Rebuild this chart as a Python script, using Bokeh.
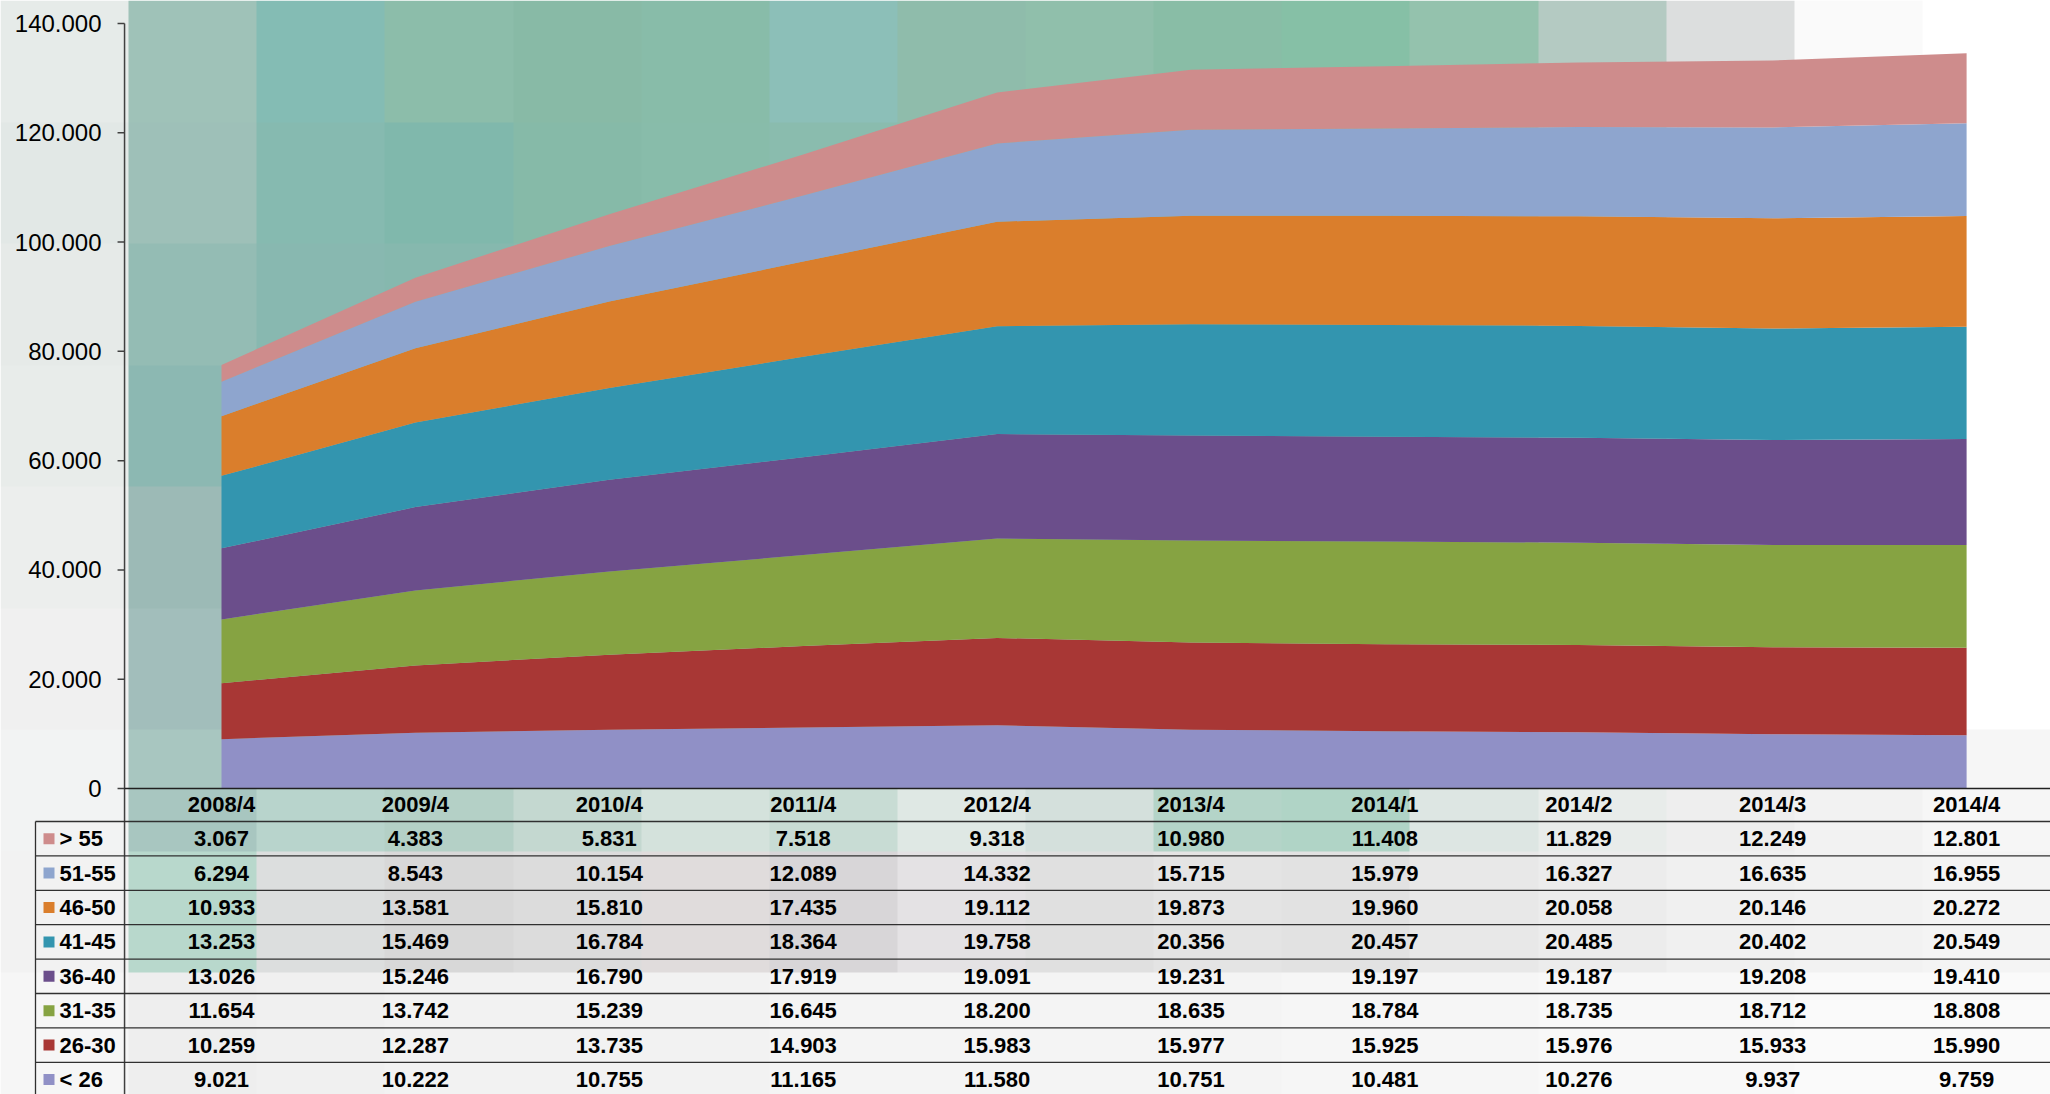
import numpy as np
from bokeh.plotting import figure
from bokeh.models import Range1d, ColumnDataSource
from bokeh.core.properties import value
from bokeh.embed import file_html
from bokeh.resources import INLINE

# ---------------- data ----------------
categories = ["2008/4", "2009/4", "2010/4", "2011/4", "2012/4",
              "2013/4", "2014/1", "2014/2", "2014/3", "2014/4"]

lt26  = [9021, 10222, 10755, 11165, 11580, 10751, 10481, 10276, 9937, 9759]
a26_30 = [10259, 12287, 13735, 14903, 15983, 15977, 15925, 15976, 15933, 15990]
a31_35 = [11654, 13742, 15239, 16645, 18200, 18635, 18784, 18735, 18712, 18808]
a36_40 = [13026, 15246, 16790, 17919, 19091, 19231, 19197, 19187, 19208, 19410]
a41_45 = [13253, 15469, 16784, 18364, 19758, 20356, 20457, 20485, 20402, 20549]
a46_50 = [10933, 13581, 15810, 17435, 19112, 19873, 19960, 20058, 20146, 20272]
a51_55 = [6294, 8543, 10154, 12089, 14332, 15715, 15979, 16327, 16635, 16955]
gt55  = [3067, 4383, 5831, 7518, 9318, 10980, 11408, 11829, 12249, 12801]

series_labels = ["< 26", "26-30", "31-35", "36-40", "41-45", "46-50", "51-55", "> 55"]
series_keys = ["lt26", "a26_30", "a31_35", "a36_40", "a41_45", "a46_50", "a51_55", "gt55"]
series_values = [lt26, a26_30, a31_35, a36_40, a41_45, a46_50, a51_55, gt55]
series_colors = ["#9090C6", "#A83735", "#86A342", "#6B4E8B",
                 "#3395AF", "#DA7E2C", "#8EA5CE", "#CE8C8C"]

y_ticks = [0, 20000, 40000, 60000, 80000, 100000, 120000, 140000]

def fmt(v):
    return f"{v:,}".replace(",", ".")

# ---------------- layout (page pixels) ----------------
FIG_W, FIG_H, M = 2050, 1094, 0
X0_PX, STEP = 221.0, 193.9          # centre of first category, category spacing
Y0_PX, YTOP_PX = 788.0, 23.0        # page y of value 0 and of top tick
AXIS_X = X0_PX - STEP / 2
YMAX = y_ticks[-1]
upp = YMAX / (Y0_PX - YTOP_PX)

x_start = -(X0_PX - M) / STEP
x_end = (M + FIG_W - X0_PX) / STEP
y_start = -(M + FIG_H - Y0_PX) * upp
y_end = YMAX + (YTOP_PX - M) * upp

def fy(page_y):
    return M + FIG_H - page_y

HEADER_Y = 804.0
TABLE_TOP = 821.0
ROW_H = 34.4
TABLE_LEFT = 35.0

FONT = value("Liberation Sans")

p = figure(width=FIG_W, height=FIG_H,
           x_range=Range1d(x_start, x_end), y_range=Range1d(y_start, y_end),
           output_backend="svg", toolbar_location=None,
           x_axis_location=None, y_axis_location=None,
           min_border=0, outline_line_color=None,
           background_fill_color="white", border_fill_color="white")
p.grid.visible = False
p.extra_x_ranges = {"px": Range1d(M, M + FIG_W)}
p.extra_y_ranges = {"py": Range1d(0, FIG_H)}

# ---------------- blurred background photo (decoration) ----------------
bg_rows = [
    ["#e6ebe9", "#9fc2b8", "#84bcb4", "#8cbdaa", "#88baa6", "#88bca9", "#8cbfb8", "#8fbcab",
     "#90bfab", "#89bda6", "#86c0a6", "#94c2ad", "#b4cac2", "#dcdede", "#fafafa", "#ffffff"],
    ["#e2e8e6", "#9ec0b8", "#86bab0", "#80b8ac", "#86baa8", "#88bcaa", "#8abcae", "#8cbcaa",
     "#8ebdaa", "#8abca8", "#8abea8", "#96c2b0", "#bacdc7", "#e2e4e4", "#fcfcfc", "#ffffff"],
    ["#e6eae8", "#94bcb4", "#88b8b0", "#86b8ae", "#8ab9ac", "#8abaac", "#8cbaae", "#8cbaae",
     "#8cbaae", "#8cbaae", "#8cbaae", "#9cc0b4", "#c0d0ca", "#e6e8e8", "#fcfcfc", "#ffffff"],
    ["#e8ecea", "#8cb8b2", "#90b8b2", "#90b8b2", "#90b8b2", "#90b8b2", "#90b8b2", "#90b8b2",
     "#90b8b2", "#90b8b2", "#90b8b2", "#a0c0b8", "#c8d4d0", "#eaeaea", "#fcfcfc", "#ffffff"],
    ["#eceeed", "#9cbab6", "#98bab4", "#98bab4", "#98bab4", "#98bab4", "#98bab4", "#98bab4",
     "#98bab4", "#98bab4", "#98bab4", "#a8c2bc", "#d0dad6", "#eeeeee", "#fcfcfc", "#ffffff"],
    ["#f0f0f0", "#a2bebb", "#a6c4be", "#a8c6c0", "#b0cac4", "#b8cec8", "#b8cec8", "#c0d2cc",
     "#c0d2cc", "#b8d0c8", "#b4d0c6", "#c8d8d2", "#dce4e0", "#f0f0f0", "#fafafa", "#ffffff"],
    ["#f2f3f3", "#a8c6c0", "#b8d4cc", "#b4d0c6", "#c4d8d0", "#d4e2dc", "#c8dcd4", "#dfe8e4",
     "#d4e0dc", "#b4d4c8", "#b0d4c6", "#dde6e3", "#e8ecea", "#eeeeee", "#f2f2f2", "#f6f6f6"],
    ["#f2f2f2", "#b8d8cc", "#dcdede", "#d8d8d8", "#dcdcdc", "#e0dcdc", "#d8d6d8", "#e4e2e4",
     "#e0e0e0", "#e4e4e4", "#e2e2e2", "#e8e8e8", "#ececec", "#f0f0f0", "#f2f2f2", "#f4f4f4"],
    ["#f6f6f6", "#eeeeee", "#f0f0f0", "#f2f2f2", "#f2f2f2", "#f2f2f2", "#f4f4f4", "#f4f4f4",
     "#f4f4f4", "#f4f4f4", "#f6f6f6", "#f6f6f6", "#f8f8f8", "#f8f8f8", "#fafafa", "#fafafa"],
]
h, w = len(bg_rows), len(bg_rows[0])
img = np.zeros((h, w), dtype=np.uint32)
view = img.view(dtype=np.uint8).reshape((h, w, 4))
for r, row in enumerate(reversed(bg_rows)):
    for c, hx in enumerate(row):
        view[r, c, 0] = int(hx[1:3], 16)
        view[r, c, 1] = int(hx[3:5], 16)
        view[r, c, 2] = int(hx[5:7], 16)
        view[r, c, 3] = 255
p.image_rgba(image=[img], x=M, y=0, dw=FIG_W, dh=FIG_H,
             x_range_name="px", y_range_name="py")

# ---------------- stacked areas ----------------
data = {"x": list(range(len(categories)))}
for k, v in zip(series_keys, series_values):
    data[k] = v
src = ColumnDataSource(data)
p.varea_stack(stackers=series_keys, x="x", color=series_colors, source=src)

# ---------------- y axis ----------------
p.segment(x0=[AXIS_X], y0=[fy(YTOP_PX)], x1=[AXIS_X], y1=[0],
          x_range_name="px", y_range_name="py", line_color="#404040", line_width=1.5)
p.segment(x0=[AXIS_X - 7] * len(y_ticks), x1=[AXIS_X] * len(y_ticks),
          y0=y_ticks, y1=y_ticks, x_range_name="px",
          line_color="#404040", line_width=1.5)
p.text(x=[AXIS_X - 23] * len(y_ticks), y=y_ticks, text=[fmt(t) for t in y_ticks],
       x_range_name="px", text_align="right", text_baseline="middle",
       text_font=FONT, text_font_size="24px", text_color="black")

# x axis line at zero
p.segment(x0=[AXIS_X], x1=[M + FIG_W], y0=[0], y1=[0], x_range_name="px",
          line_color="#202020", line_width=1.5)

# ---------------- data table ----------------
ncat = len(categories)
p.text(x=list(range(ncat)), y=[fy(HEADER_Y)] * ncat, text=categories,
       y_range_name="py", text_align="center", text_baseline="middle",
       text_font=FONT, text_font_size="22px", text_font_style="bold", text_color="black")

n_rows = len(series_keys)
line_ys = [fy(TABLE_TOP + k * ROW_H) for k in range(n_rows + 1)]
p.segment(x0=[TABLE_LEFT] * len(line_ys), x1=[M + FIG_W] * len(line_ys),
          y0=line_ys, y1=line_ys, x_range_name="px", y_range_name="py",
          line_color="#303030", line_width=1.3)
p.segment(x0=[TABLE_LEFT], x1=[TABLE_LEFT], y0=[fy(TABLE_TOP)], y1=[0],
          x_range_name="px", y_range_name="py", line_color="#303030", line_width=1.3)

row_labels = list(reversed(series_labels))
row_colors = list(reversed(series_colors))
row_values = list(reversed(series_values))
row_centers = [fy(TABLE_TOP + (k + 0.5) * ROW_H) for k in range(n_rows)]

p.rect(x=[TABLE_LEFT + 13.5] * n_rows, y=row_centers, width=11, height=11,
       x_range_name="px", y_range_name="py", fill_color=row_colors, line_color=None)
p.text(x=[TABLE_LEFT + 24] * n_rows, y=row_centers, text=row_labels,
       x_range_name="px", y_range_name="py", text_align="left", text_baseline="middle",
       text_font=FONT, text_font_size="22px", text_font_style="bold", text_color="black")

tx, ty, tt = [], [], []
for r, vals in enumerate(row_values):
    for c, v in enumerate(vals):
        tx.append(c)
        ty.append(row_centers[r])
        tt.append(fmt(v))
p.text(x=tx, y=ty, text=tt, y_range_name="py", text_align="center", text_baseline="middle",
       text_font=FONT, text_font_size="22px", text_font_style="bold", text_color="black")

open("out.html", "w").write(file_html(p, INLINE))
